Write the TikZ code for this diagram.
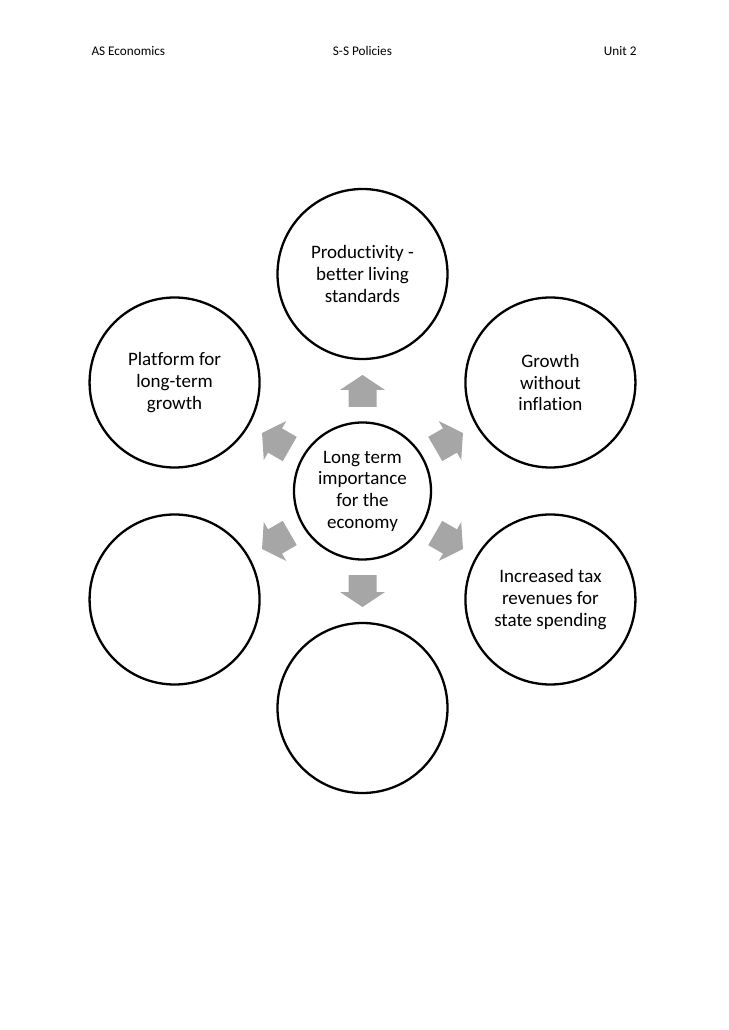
\documentclass[tikz,border=0pt]{standalone}
\usepackage{fontspec}
\setmainfont{Carlito}[Ligatures=NoCommon]
\definecolor{arrowgray}{RGB}{166,166,166}
\tikzset{
  bubble/.style={circle, draw=black, line width=2.3pt, minimum size=170pt, inner sep=0pt,
    align=center, font=\fontsize{19}{21.7}\selectfont},
  hub/.style={bubble, minimum size=137pt},
  header/.style={font=\fontsize{13.2}{16}\selectfont},
  blockarrow/.pic={\fill[arrowgray] (-16,-14) -- (1,-14) -- (1,-22.5) -- (16,0)
    -- (1,22.5) -- (1,14) -- (-16,14) -- cycle;}
}
\begin{document}
\begin{tikzpicture}[x=1pt, y=1pt]
\useasboundingbox (-362.5,-539) rectangle (365.5,491);
% page header
\node[header, anchor=west] (course) at (-274.5,440) {AS Economics};
\node[header] (topic) at (0,440) {S-S Policies};
\node[header, anchor=east] (unit) at (277.5,440) {Unit 2};
% centre circle
\node[hub] (hub) at (0,0) {Long term\\importance\\for the\\economy};
% outer circles, 217 from the centre
\node[bubble] (prod) at (90:217) {Productivity -\\better living\\standards};
\node[bubble] (growth) at (30:217) {Growth\\without\\inflation};
\node[bubble] (tax) at (-30:217) {Increased tax\\revenues for\\state spending};
\node[bubble] (blankbottom) at (-90:217) {};
\node[bubble] (blankleft) at (-150:217) {};
\node[bubble] (platform) at (150:217) {Platform for\\long-term\\growth};
% grey block arrows pointing outwards
\foreach \a in {90,30,-30,-90,-150,150}
  \pic[rotate=\a] at (\a:100) {blockarrow};
\end{tikzpicture}
\end{document}
